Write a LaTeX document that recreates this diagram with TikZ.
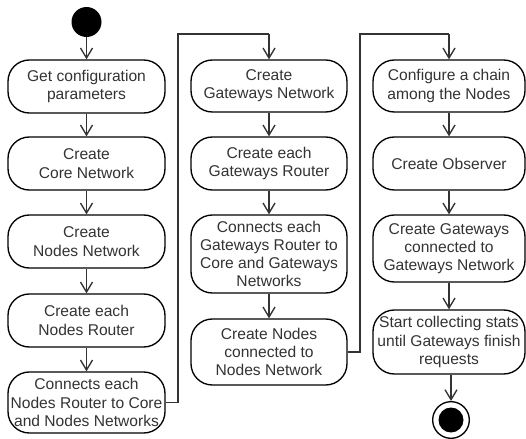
\documentclass[tikz,border=0pt]{standalone}
\usepackage{fontspec}
\setmainfont{Liberation Sans}
\usetikzlibrary{arrows.meta}
\definecolor{ink}{HTML}{333333}
\begin{document}
\begin{tikzpicture}[x=0.75pt,y=-0.75pt,
  act/.style={draw=black,line width=1pt,rounded corners=16pt,align=center,
    text=ink,inner sep=1pt,font=\fontsize{11.7pt}{13.7pt}\selectfont},
  c1/.style={act,minimum width=117.75pt},
  c2/.style={act,minimum width=117pt},
  c3/.style={act,minimum width=114pt},
  flow/.style={draw=ink,line width=1pt,-{Straight Barb[length=7.5pt,width=9pt,line width=1pt]}},
  link/.style={draw=ink,line width=1pt}]
\useasboundingbox (0,0) rectangle (526,439);

% start
\node[circle,fill=black,minimum size=22.5pt,inner sep=0pt] (start) at (86.5,22) {};

% first column
\node[c1,minimum height=39.75pt] (a1) at (86.5,86.5) {Get configuration\\parameters};
\node[c1,minimum height=39.75pt] (a2) at (86.5,163.5) {Create\\Core Network};
\node[c1,minimum height=39.75pt] (a3) at (86.5,241.5) {Create\\Nodes Network};
\node[c1,minimum height=39.75pt] (a4) at (86.5,320.5) {Create each\\Nodes Router};
\node[c1,minimum height=45.75pt] (a5) at (86.5,402.5) {Connects each\\Nodes Router to Core\\and Nodes Networks};

% second column
\node[c2,minimum height=39pt] (b1) at (269,86) {Create\\Gateways Network};
\node[c2,minimum height=39.75pt] (b2) at (269,163.5) {Create each\\Gateways Router};
\node[c2,minimum height=58.5pt] (b3) at (269,254) {Connects each\\Gateways Router to\\Core and Gateways\\Networks};
\node[c2,minimum height=49.5pt] (b4) at (269,352) {Create Nodes\\connected to\\Nodes Network};

% third column
\node[c3,minimum height=39pt] (d1) at (449,86) {Configure a chain\\among the Nodes};
\node[c3,minimum height=39.75pt] (d2) at (449,163.5) {Create Observer};
\node[c3,minimum height=50.25pt] (d3) at (449,248.5) {Create Gateways\\connected to\\Gateways Network};
\node[c3,minimum height=48pt] (d4) at (449,342) {Start collecting stats\\until Gateways finish\\requests};

% end
\node[circle,draw=black,line width=1pt,minimum size=27.5pt,inner sep=0pt] (stop) at (451,420) {};
\node[circle,fill=black,minimum size=18.75pt,inner sep=0pt] (stopdot) at (stop.center) {};

% column-switch corners
\coordinate (k1) at (178,402.5);
\coordinate (k2) at (178,34);
\coordinate (k3) at (269,34);
\coordinate (m1) at (360,352);
\coordinate (m2) at (360,34);
\coordinate (m3) at (449,34);

% flow
\draw[flow] (start) -- (a1);
\draw[flow] (a1) -- (a2);
\draw[flow] (a2) -- (a3);
\draw[flow] (a3) -- (a4);
\draw[flow] (a4) -- (a5);
\draw[link] (a5.east) -- (k1) -- (k2) -- (k3);
\draw[flow] (k3) -- (b1);
\draw[flow] (b1) -- (b2);
\draw[flow] (b2) -- (b3);
\draw[flow] (b3) -- (b4);
\draw[link] (b4.east) -- (m1) -- (m2) -- (m3);
\draw[flow] (m3) -- (d1);
\draw[flow] (d1) -- (d2);
\draw[flow] (d2) -- (d3);
\draw[flow] (d3) -- (d4);
\draw[flow] (d4.south -| stop) -- (stop);
\end{tikzpicture}
\end{document}
